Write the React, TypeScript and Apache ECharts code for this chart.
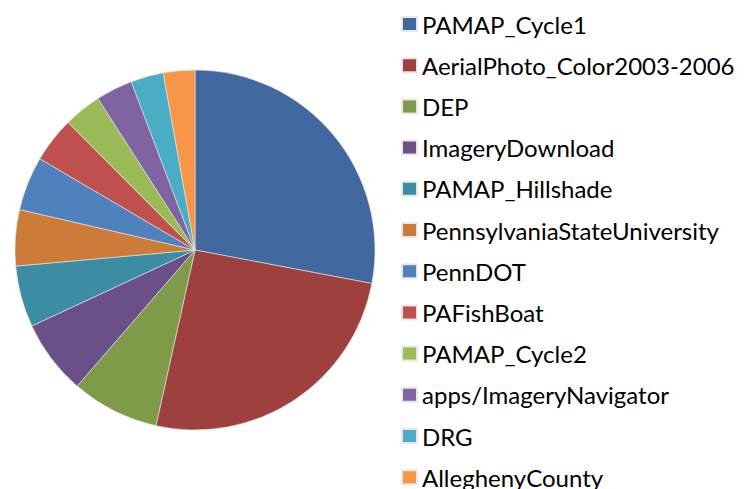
import React, { useEffect, useRef } from "react";
import * as echarts from "echarts";

const categories = [
  "PAMAP_Cycle1",
  "AerialPhoto_Color2003-2006",
  "DEP",
  "ImageryDownload",
  "PAMAP_Hillshade",
  "PennsylvaniaStateUniversity",
  "PennDOT",
  "PAFishBoat",
  "PAMAP_Cycle2",
  "apps/ImageryNavigator",
  "DRG",
  "AlleghenyCounty",
];
const values = [27.98, 25.51, 7.87, 6.71, 5.51, 5.03, 4.86, 4.08, 3.39, 3.31, 2.93, 2.83];
const colors = [
  "#4169A0", "#9E413E", "#7F9A48", "#6A5086", "#3C8DA3", "#CC7B38",
  "#4F81BD", "#C0504D", "#9BBB59", "#8064A2", "#4BACC6", "#F79646",
];

export default function App() {
  const ref = useRef<HTMLDivElement>(null);
  useEffect(() => {
    if (!ref.current) return;
    const chart = echarts.init(ref.current, undefined, { renderer: "svg" });
    chart.setOption({
      animation: false,
      color: colors,
      legend: {
        orient: "vertical",
        left: 396,
        top: 7,
        height: 1000,
        itemWidth: 15,
        itemHeight: 14,
        itemGap: 17.2,
        icon: "rect",
        textStyle: {
          fontFamily: "Lato",
          fontSize: 24,
          lineHeight: 24,
          color: "#000",
        },
        data: categories,
      },
      series: [
        {
          type: "pie",
          center: [195, 250],
          radius: 180,
          startAngle: 90,
          clockwise: true,
          label: { show: false },
          labelLine: { show: false },
          itemStyle: { borderColor: "#e8e8e8", borderWidth: 0.6 },
          data: categories.map((name, i) => ({ name, value: values[i] })),
        },
      ],
    });
    return () => chart.dispose();
  }, []);
  return (
    <div
      ref={ref}
      style={{ position: "absolute", left: 0, top: 0, width: 752, height: 489, background: "#fff" }}
    />
  );
}
